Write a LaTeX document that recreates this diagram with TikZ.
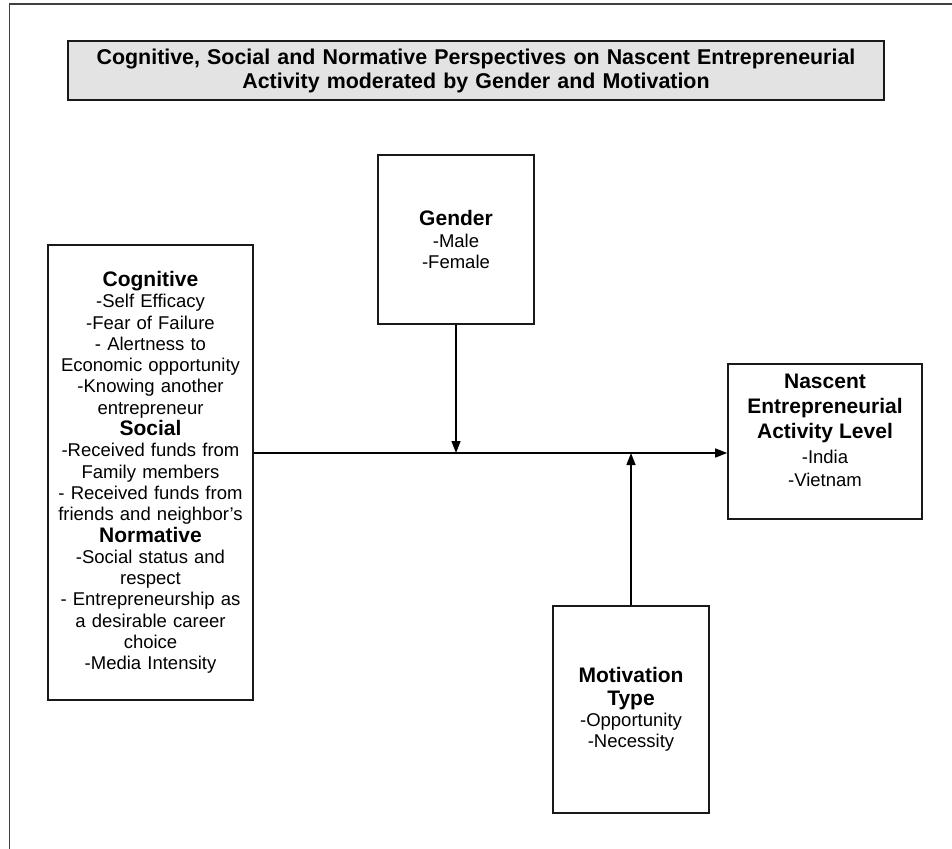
\documentclass[tikz,border=0pt]{standalone}
\usepackage{fontspec}
\setmainfont{Liberation Sans}
\usetikzlibrary{arrows.meta}
\definecolor{titlegray}{HTML}{E3E3E3}
\newcommand{\hd}[1]{{\fontsize{21}{21.3}\selectfont\bfseries #1}}
\tikzset{
    box/.style={draw=black!90, line width=1.6pt, align=center, inner sep=4pt,
        font=\fontsize{18.5}{21.3}\selectfont},
    arr/.style={line width=1.4pt, -{Triangle[length=12pt,width=9pt]}}
}
\begin{document}
\begin{tikzpicture}[x=1pt, y=-1pt]
    \useasboundingbox (0,0) rectangle (952,848);
    \draw[black!75, line width=1.8pt] (9.5,860) -- (9.5,4) -- (965,4);

    \node[box, fill=titlegray, minimum width=816pt, minimum height=59pt, text width=808pt,
        font=\fontsize{21.4}{24}\selectfont\bfseries] (title) at (476,70.5)
        {Cognitive, Social and Normative Perspectives on Nascent Entrepreneurial\\
         Activity moderated by Gender and Motivation};

    \node[box, minimum width=205pt, minimum height=455pt, text width=197pt] (left) at (150.5,472.5)
        {\hd{Cognitive}\\ -Self Efficacy\\ -Fear of Failure\\ - Alertness to\\
         Economic opportunity\\ -Knowing another\\ entrepreneur\\
         \hd{Social}\\ -Received funds from\\ Family members\\ - Received funds from\\
         friends and neighbor's\\
         \hd{Normative}\\ -Social status and\\ respect\\ - Entrepreneurship as\\
         a desirable career\\ choice\\ -Media Intensity};

    \node[box, minimum width=156pt, minimum height=169pt, text width=148pt] (gender) at (456,239.5)
        {\hd{Gender}\\ -Male\\ -Female};

    \node[box, minimum width=194pt, minimum height=155pt, text width=186pt] (nascent) at (825,441.5)
        {\fontsize{21}{25}\selectfont\bfseries Nascent\\ Entrepreneurial\\ Activity Level\\[4pt]
         \fontsize{18.5}{21.3}\selectfont\mdseries -India\\[2pt] -Vietnam\\[1pt] \mbox{}};

    \node[box, minimum width=156pt, minimum height=207pt, text width=148pt] (motiv) at (631,709.5)
        {\fontsize{21}{23}\selectfont\bfseries Motivation\\ Type\\[-1pt]
         \fontsize{18.5}{21.3}\selectfont\mdseries -Opportunity\\ -Necessity};

    \coordinate (mid) at (0,453);
    \draw[arr] (left.east |- mid) -- (nascent.west |- mid);
    \draw[arr] (gender.south) -- (gender.south |- mid);
    \draw[arr] (motiv.north) -- (motiv.north |- mid);
\end{tikzpicture}
\end{document}
